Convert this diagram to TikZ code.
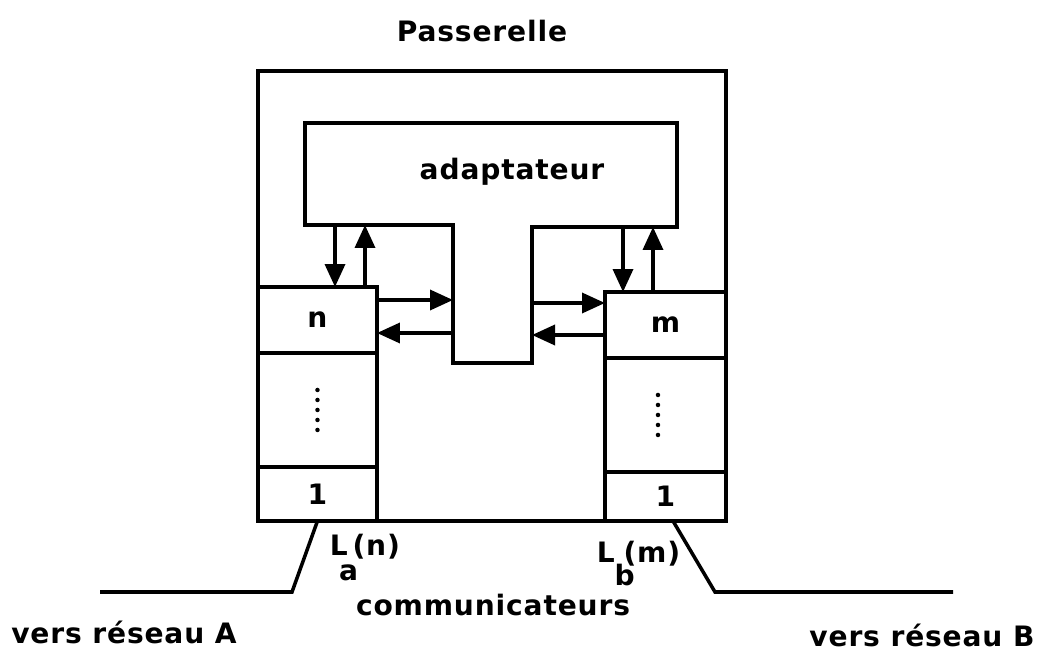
\documentclass[tikz,border=0pt]{standalone}
\usepackage{fontspec}
\setmainfont{DejaVu Sans}[LetterSpace=3]
\usetikzlibrary{positioning,arrows.meta}

\begin{document}
\begin{tikzpicture}[
  x=0.02cm, y=-0.02cm,
  line width=2pt,
  font=\fontsize{16}{19}\selectfont\bfseries,
  inner sep=0pt,
  cell/.style={rectangle,draw,outer sep=0pt,minimum width=2.38cm},
  flow/.style={-{Triangle[length=4.6mm,width=4mm]}},
  node distance=0pt
]
  \useasboundingbox (0,0) rectangle (1042,655);

  % gateway and adapter
  \draw (258,71) rectangle (726,521);
  \draw (305,123) -- (677,123) -- (677,227) -- (532,227) -- (532,363)
        -- (453,363) -- (453,225) -- (305,225) -- cycle;
  \node[anchor=base] (pass) at (482,42) {Passerelle};
  \node[anchor=base] (adapt) at (512,180) {adaptateur};

  % line stacks
  \node[cell,minimum height=1.32cm,anchor=north west] (nA) at (258,287) {n};
  \node[cell,minimum height=2.28cm,below=of nA] (dA) {};
  \node[cell,minimum height=1.08cm,below=of dA] (oneA) {1};
  \node[cell,minimum width=2.42cm,minimum height=1.32cm,anchor=north west] (nB) at (605,292) {m};
  \node[cell,minimum width=2.42cm,minimum height=2.28cm,below=of nB] (dB) {};
  \node[cell,minimum width=2.42cm,minimum height=0.98cm,below=of dB] (oneB) {1};
  \foreach \k in {-2,...,2} {
    \fill ([yshift=\k*0.2cm]dA.center) circle (0.045cm);
    \fill ([xshift=-0.15cm,yshift=\k*0.2cm]dB.center) circle (0.045cm);
  }

  % exchanges
  \coordinate (dnA) at (335,225);
  \coordinate (upA) at (365,225);
  \coordinate (inA) at (453,300);
  \coordinate (outA) at (453,333);
  \draw[flow] (dnA) -- (dnA |- nA.north);
  \draw[flow] (upA |- nA.north) -- (upA);
  \draw[flow] (inA -| nA.east) -- (inA);
  \draw[flow] (outA) -- (outA -| nA.east);

  \coordinate (dnB) at (623,227);
  \coordinate (upB) at (653,227);
  \coordinate (inB) at (532,303);
  \coordinate (outB) at (532,335);
  \draw[flow] (dnB) -- (dnB |- nB.north);
  \draw[flow] (upB |- nB.north) -- (upB);
  \draw[flow] (inB) -- (inB -| nB.west);
  \draw[flow] (outB -| nB.west) -- (outB);

  % networks
  \coordinate (kA) at (292,592);
  \coordinate (netA) at (100,592);
  \coordinate (kB) at (715,592);
  \coordinate (netB) at (953,592);
  \draw (oneA.south) -- (kA) -- (netA);
  \draw ([xshift=0.15cm]oneB.south) -- (kB) -- (netB);

  \node[anchor=base west] (la) at (328,555) {L\kern-0.3em\raisebox{-0.9em}{a}\kern-0.2em(n)};
  \node[anchor=base west] (lb) at (595,562) {L\raisebox{-0.85em}{b}\kern-0.4em(m)};
  \node[anchor=base] (comm) at (493,615) {communicateurs};
  \node[anchor=base] (resA) at (124,643) {vers réseau A};
  \node[anchor=base] (resB) at (922,646) {vers réseau B};
\end{tikzpicture}
\end{document}
